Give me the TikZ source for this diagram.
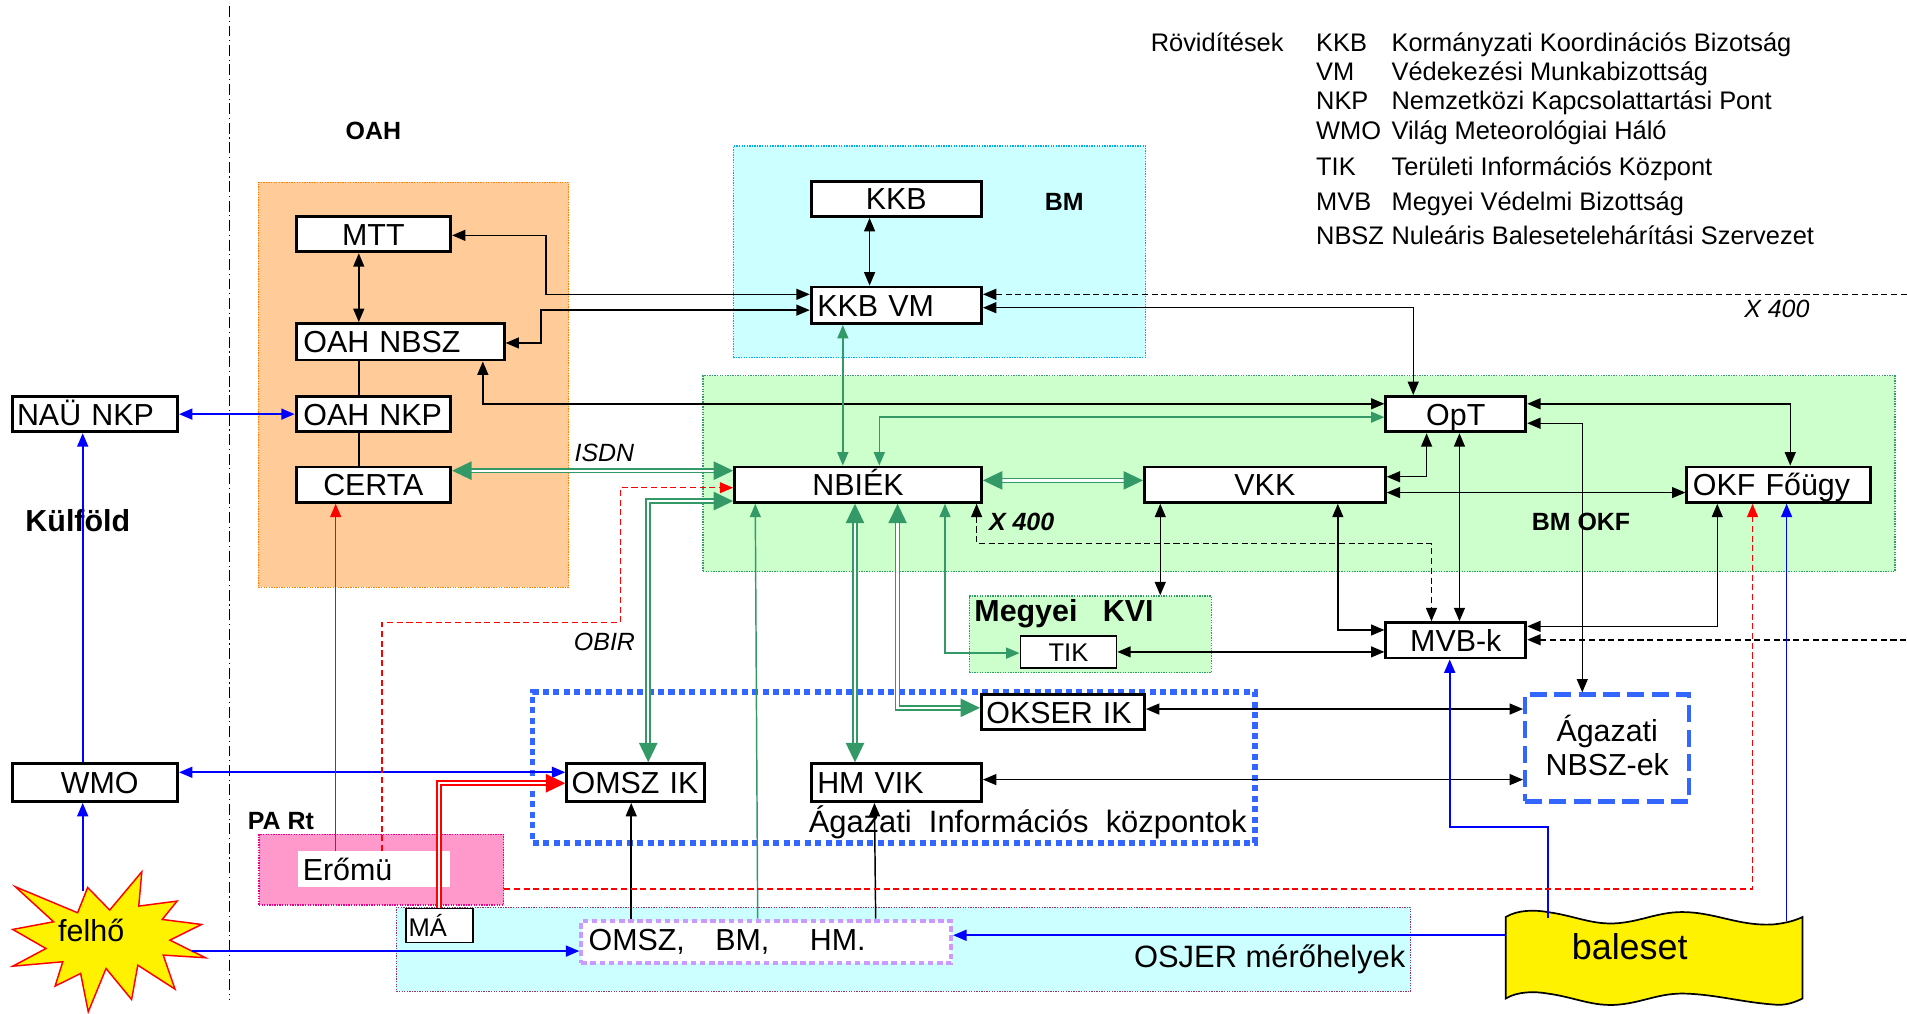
\documentclass[tikz,border=0pt]{standalone}
\usepackage{fontspec}
\setmainfont{Liberation Sans}
\usetikzlibrary{arrows.meta,positioning,calc}
\definecolor{orangefill}{HTML}{FFCC99}
\definecolor{cyanfill}{HTML}{CCFFFF}
\definecolor{greenfill}{HTML}{CCFFCC}
\definecolor{pinkfill}{HTML}{FF99CC}
\definecolor{seagreen}{HTML}{339966}
\definecolor{frameblue}{HTML}{3366FF}
\definecolor{framelilac}{HTML}{CC99FF}
\definecolor{plum}{HTML}{993366}
\tikzset{
  arr/.tip={Triangle[length=11pt,width=9pt]},
  bigarr/.tip={Triangle[length=16pt,width=15pt]},
  panel/.style={draw,densely dotted,line width=1.1pt,inner sep=0pt},
  mainbox/.style={draw,line width=2.4pt,fill=white,inner sep=0pt,font=\fontsize{25}{29}\selectfont,text height=18pt,text depth=0pt},
  leftbox/.style={mainbox,align=left,text width=#1},
  lbl/.style={font=\fontsize{25}{30}\selectfont,inner sep=0pt},
  boldlbl/.style={font=\fontsize{20.5}{24}\bfseries\selectfont,inner sep=0pt},
  itlbl/.style={font=\fontsize{20.5}{24}\itshape\selectfont,inner sep=0pt},
  legend/.style={font=\fontsize{20.9}{25}\selectfont,inner sep=0pt,anchor=base west},
  blackline/.style={line width=1.2pt,arr-arr},
  blueline/.style={line width=1.4pt,blue},
  greenline/.style={line width=1.2pt,seagreen},
  greenpair/.style={line width=1.4pt,seagreen,double=white,double distance=1.8pt,bigarr-bigarr},
  redpair/.style={line width=1.5pt,red,double=white,double distance=1.8pt,-bigarr},
  reddash/.style={line width=1.2pt,red,dash pattern=on 5pt off 3pt},
  blackdash/.style={line width=1.3pt,dash pattern=on 5pt off 3pt}
}
\begin{document}
\begin{tikzpicture}[x=1pt,y=-1pt]
  \useasboundingbox (0,0) rectangle (1568,833);
  \draw[line width=.9pt,dash pattern=on 9pt off 3pt on 1pt off 3pt] (189,5) -- (189,822);

  % Regions
  \node[panel,orange,fill=orangefill,minimum width=255pt,minimum height=333pt] (oahpanel) at (340,316.5) {};
  \node[panel,cyan,fill=cyanfill,minimum width=339pt,minimum height=174pt] (bmpanel) at (772.5,207) {};
  \node[panel,seagreen,fill=greenfill,minimum width=980pt,minimum height=161pt] (okfpanel) at (1068,389.5) {};
  \node[panel,seagreen,fill=greenfill,minimum width=199pt,minimum height=63pt] (kvi) at (896.5,521.5) {};
  \node[panel,magenta,fill=pinkfill,minimum width=201pt,minimum height=58pt] (parpanel) at (313.5,715) {};
  \node[panel,plum,fill=cyanfill,minimum width=834pt,minimum height=69pt] (osjer) at (743,780.5) {};
  \node[draw=frameblue,line width=4.5pt,dash pattern=on 5pt off 3.6pt,minimum width=594pt,minimum height=124pt,inner sep=0pt] (agpanel) at (735,631) {};
  \node[draw=frameblue,line width=3.4pt,dash pattern=on 14pt off 6pt,fill=white,minimum width=135pt,minimum height=88pt,inner sep=0pt,align=center,font=\fontsize{25}{28}\selectfont,text depth=5pt] (agnbsz) at (1321.5,615) {Ágazati\\NBSZ-ek};

  % Boxes
  \node[mainbox,minimum width=127pt,minimum height=29pt] (mtt) at (307,192.5) {MTT};
  \node[leftbox=159pt,minimum height=30pt,inner xsep=6pt] (oahnbsz) at (329,281) {OAH NBSZ};
  \node[leftbox=115pt,minimum height=29pt,inner xsep=6pt] (oahnkp) at (307,340.5) {OAH NKP};
  \node[mainbox,minimum width=127pt,minimum height=29pt] (certa) at (307,398.5) {CERTA};
  \node[leftbox=128pt,minimum height=29pt,inner xsep=4pt] (naunkp) at (78,340.5) {NAÜ NKP};
  \node[leftbox=56pt,minimum height=31pt,inner xsep=40pt] (wmo) at (78,643.5) {WMO};
  \node[mainbox,minimum width=140pt,minimum height=29pt] (kkb) at (737,163.5) {KKB};
  \node[leftbox=130pt,minimum height=30pt,inner xsep=5pt] (kkbvm) at (737,251) {KKB VM};
  \node[mainbox,minimum width=115pt,minimum height=29pt] (opt) at (1197,340.5) {OpT};
  \node[mainbox,minimum width=203pt,minimum height=29pt] (nbiek) at (705.5,398.5) {NBIÉK};
  \node[mainbox,minimum width=198pt,minimum height=29pt] (vkk) at (1040,398.5) {VKK};
  \node[leftbox=141pt,minimum height=29pt,inner xsep=5pt] (okf) at (1462.5,398.5) {OKF Főügy};
  \node[mainbox,minimum width=115pt,minimum height=29pt] (mvbk) at (1197,526.5) {MVB-k};
  \node[mainbox,line width=1.4pt,minimum width=79pt,minimum height=26pt,font=\fontsize{21}{25}\selectfont,text height=15pt] (tik) at (878.5,536) {TIK};
  \node[leftbox=126pt,minimum height=29pt,inner xsep=4pt] (okser) at (874,585.5) {OKSER IK};
  \node[leftbox=105pt,minimum height=31pt,inner xsep=4pt] (omszik) at (522.5,643.5) {OMSZ IK};
  \node[leftbox=130pt,minimum height=31pt,inner xsep=5pt] (hmvik) at (737,643.5) {HM VIK};
  \node[fill=white,minimum width=125pt,minimum height=29pt,text width=121pt,align=left,inner xsep=2pt,inner ysep=0pt,font=\fontsize{25}{29}\selectfont] (eromu) at (307.5,714.5) {\hspace{2pt}Erőmü};
  \node[draw,line width=1.2pt,fill=white,minimum width=55pt,minimum height=28pt,text width=51pt,align=left,inner xsep=2pt,inner ysep=0pt,font=\fontsize{21}{25}\selectfont] (ma) at (361.5,761) {MÁ};
  \node[draw=framelilac,line width=3.4pt,dash pattern=on 4.5pt off 3pt,fill=white,minimum width=304pt,minimum height=35pt,text width=294pt,align=left,inner xsep=5pt,inner ysep=0pt,font=\fontsize{25}{29}\selectfont] (mero) at (630,774.5) {\hspace{1pt}OMSZ,\ \ \ BM,\ \ \ \ HM.};

  % Felho and baleset
  \draw[red,line width=1.2pt,fill=yellow] (12.6,729.1) -- (63.8,750.5) -- (72.1,729.7) -- (90.2,748.3) -- (116.6,716.8) -- (114.1,745) -- (145.6,740.9) -- (133.4,756) -- (165.7,760.1) -- (139.7,773) -- (169,787.5) -- (134.2,785.3) -- (143.9,813.3) -- (113.3,793.6) -- (108.2,821.8) -- (87.2,796.3) -- (72.6,831.9) -- (66.3,800.4) -- (45.3,810.8) -- (51.6,790.8) -- (10.5,794.4) -- (37.8,779.9) -- (10.5,764.2) -- (44,757.9) -- cycle;
  \node[lbl] (felho) at (75,765) {felhő};
  \coordinate (felhotop) at (68,733);
  \coordinate (felhoright) at (158,782);
  \draw[line width=1.4pt,fill=yellow] (1238,754) .. controls (1248,748) and (1262,748) .. (1273,750) .. controls (1295,753) and (1310,761) .. (1331,759) .. controls (1352,757) and (1365,749) .. (1387,750) .. controls (1412,751) and (1432,762) .. (1459,760) .. controls (1468,759) and (1476,757) .. (1482,754) -- (1482,821) .. controls (1476,824) and (1468,827) .. (1459,826) .. controls (1432,824) and (1412,818) .. (1387,817) .. controls (1365,816) and (1352,824) .. (1331,826) .. controls (1310,828) and (1295,820) .. (1273,817) .. controls (1262,815) and (1248,815) .. (1238,821) -- cycle;
  \node[lbl,font=\fontsize{29.5}{34}\selectfont] (baleset) at (1340,778) {baleset};
  \coordinate (balesetwest) at (1238,769);
  \coordinate (balesetmvb) at (1273,755);
  \coordinate (balesetokf) at (1469,757);

  % Labels
  \node[boldlbl] (oahlbl) at (307,108) {OAH};
  \node[boldlbl] (bmlbl) at (875,166) {BM};
  \node[boldlbl] (okflbl) at (1300,429) {BM OKF};
  \node[boldlbl,font=\fontsize{25}{29}\bfseries\selectfont] (kulfold) at (64,428) {Külföld};
  \node[boldlbl] (parlbl) at (231,675) {PA Rt};
  \node[boldlbl,font=\fontsize{25}{29}\bfseries\selectfont,anchor=west] (kvilbl) at (801,505) {Megyei\ \ \ KVI};
  \node[lbl,font=\fontsize{25.4}{30}\selectfont] (aglbl) at (845,676) {Ágazati\ \ Információs\ \ központok};
  \node[lbl,font=\fontsize{25.4}{30}\selectfont] (osjerlbl) at (1044,789) {OSJER mérőhelyek};
  \node[itlbl] (isdn) at (497,372) {ISDN};
  \node[itlbl] (obir) at (497,528) {OBIR};
  \node[itlbl] (xtop) at (1461,254) {X 400};
  \node[itlbl,font=\fontsize{20.5}{24}\bfseries\itshape\selectfont] (xmid) at (840,429) {X 400};

  % Legend
  \node[legend] (leghead) at (946,42) {Rövidítések};
  \node[legend] (leg1a) at (1082,42) {KKB};
  \node[legend] (leg1b) at (1144,42) {Kormányzati Koordinációs Bizotság};
  \node[legend] (leg2a) at (1082,66) {VM};
  \node[legend] (leg2b) at (1144,66) {Védekezési Munkabizottság};
  \node[legend] (leg3a) at (1082,90) {NKP};
  \node[legend] (leg3b) at (1144,90) {Nemzetközi Kapcsolattartási Pont};
  \node[legend] (leg4a) at (1082,115) {WMO};
  \node[legend] (leg4b) at (1144,115) {Világ Meteorológiai Háló};
  \node[legend] (leg5a) at (1082,144) {TIK};
  \node[legend] (leg5b) at (1144,144) {Területi Információs Központ};
  \node[legend] (leg6a) at (1082,173) {MVB};
  \node[legend] (leg6b) at (1144,173) {Megyei Védelmi Bizottság};
  \node[legend] (leg7a) at (1082,201) {NBSZ};
  \node[legend] (leg7b) at (1144,201) {Nuleáris Balesetelehárítási Szervezet};

  % Black links
  \draw[blackline] (715,0 |- kkb.south) -- (715,0 |- kkbvm.north);
  \draw[blackline] (295,0 |- mtt.south) -- (295,0 |- oahnbsz.north);
  \draw[line width=1.2pt] (295,0 |- oahnbsz.south) -- (295,0 |- oahnkp.north);
  \draw[line width=1.2pt] (295,0 |- oahnkp.south) -- (295,0 |- certa.north);
  \draw[blackline] (mtt.east) ++(0,1) -- (449,193.5) -- (449,242) -- (kkbvm.west |- 0,242);
  \draw[blackline] (oahnbsz.east |- 0,282) -- (445,282) -- (445,255) -- (kkbvm.west |- 0,255);
  \draw[blackline] (397,0 |- oahnbsz.south) -- (397,332) -- (opt.west |- 0,332);
  \draw[blackline] (kkbvm.east |- 0,253) -- (1162,253) -- (1162,0 |- opt.north);
  \draw[blackline] (vkk.east |- 0,392) -- (1173,392) -- (1173,0 |- opt.south);
  \draw[blackline] (vkk.east |- 0,405) -- (okf.west |- 0,405);
  \draw[blackline] (opt.east |- 0,332) -- (1472,332) -- (1472,0 |- okf.north);
  \draw[blackline] (1200,0 |- opt.south) -- (1200,0 |- mvbk.north);
  \draw[blackline] (opt.east |- 0,348) -- (1301,348) -- (1301,0 |- agnbsz.north);
  \draw[blackline] (954,0 |- vkk.south) -- (954,0 |- kvi.north);
  \draw[blackline] (1100,0 |- vkk.south) -- (1100,518) -- (mvbk.west |- 0,518);
  \draw[blackline] (mvbk.east |- 0,515) -- (1412,515) -- (1412,0 |- okf.south);
  \draw[blackline] (tik.east |- 0,536) -- (mvbk.west |- 0,536);
  \draw[blackline] (okser.east |- 0,583) -- (agnbsz.west |- 0,583);
  \draw[blackline] (hmvik.east |- 0,641) -- (agnbsz.west |- 0,641);
  \draw[line width=1.2pt,-arr] (519,0 |- mero.north) -- (519,0 |- omszik.south);
  \draw[line width=1.2pt,-arr] (720,0 |- mero.north) -- (719,0 |- hmvik.south);

  % Dashed X 400 links
  \draw[blackdash,arr-] (kkbvm.east |- 0,242) -- (1568,242);
  \draw[blackdash,arr-] (mvbk.east |- 0,526) -- (1568,526);
  \draw[blackdash,arr-arr] (803,0 |- nbiek.south) -- (803,447) -- (1177,447) -- (1177,0 |- mvbk.north);

  % Green links
  \draw[greenline,arr-arr] (693,0 |- kkbvm.south) -- (693,0 |- nbiek.north);
  \draw[greenline,arr-arr] (723,0 |- nbiek.north) -- (723,343) -- (opt.west |- 0,343);
  \draw[greenline,arr-arr] (777,0 |- nbiek.south) -- (777,537) -- (tik.west |- 0,537);
  \draw[greenline,-arr] (623,0 |- mero.north) -- (621,0 |- nbiek.south);
  \draw[greenpair] (certa.east |- 0,387) -- (nbiek.west |- 0,387);
  \draw[greenpair] (nbiek.west |- 0,412) -- (533,412) -- (533,0 |- omszik.north);
  \draw[greenpair] (nbiek.east |- 0,395) -- (vkk.west |- 0,395);
  \draw[greenpair] (703,0 |- nbiek.south) -- (703,0 |- hmvik.north);
  \draw[greenpair] (738,0 |- nbiek.south) -- (738,582) -- (okser.west |- 0,582);

  % Blue links
  \draw[blueline,arr-arr] (naunkp.east) -- (oahnkp.west);
  \draw[blueline,-arr] (68,0 |- wmo.north) -- (68,0 |- naunkp.south);
  \draw[blueline,-arr] (felhotop) -- (68,0 |- wmo.south);
  \draw[blueline,arr-arr] (wmo.east |- 0,635) -- (omszik.west |- 0,635);
  \draw[blueline,-arr] (felhoright) -- (mero.west |- felhoright);
  \draw[blueline,-arr] (balesetwest) -- (mero.east |- balesetwest);
  \draw[blueline,-arr] (balesetmvb) -- (1273,680) -- (1192,680) -- (1192,0 |- mvbk.south);
  \draw[blueline,-arr] (balesetokf) -- (1469,0 |- okf.south);

  % Red links
  \draw[line width=1.2pt,red,-arr] (276,0 |- eromu.north) -- (276,0 |- certa.south);
  \draw[redpair] (361,0 |- ma.north) -- (361,644) -- (omszik.west |- 0,644);
  \draw[reddash,-arr] (314,0 |- eromu.north) -- (314,512) -- (510,512) -- (510,401) -- (nbiek.west |- 0,401);
  \draw[reddash,-arr] (parpanel.east |- 0,731) -- (1441,731) -- (1441,0 |- okf.south);
\end{tikzpicture}
\end{document}
